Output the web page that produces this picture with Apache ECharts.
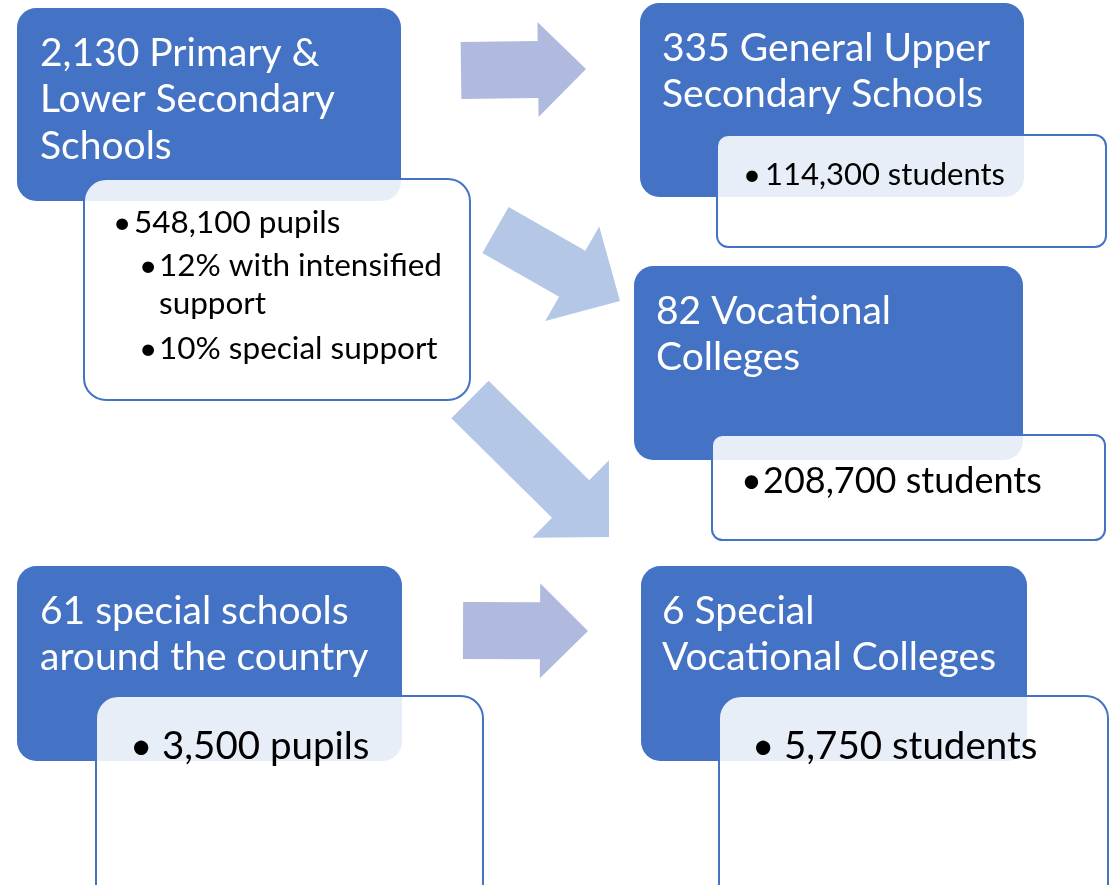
<!DOCTYPE html>
<html>
<head>
<meta charset="utf-8">
<script src="https://cdn.jsdelivr.net/npm/echarts@6/dist/echarts.min.js"></script>
<style>
  html, body { margin: 0; padding: 0; background: #fff; }
  #chart { width: 1116px; height: 885px; }
</style>
</head>
<body>
<div id="chart"></div>
<script>
// school types (blue boxes), one entry per box, lines as shown
const schoolTypes = [
  ['2,130 Primary &', 'Lower Secondary', 'Schools'],
  ['335 General Upper', 'Secondary Schools'],
  ['82 Vocational', 'Colleges'],
  ['61 special schools', 'around the country'],
  ['6 Special', 'Vocational Colleges'],
]

// bullet notes under each box: [level, lines]
const schoolNotes = [
  [[0, ['548,100 pupils']], [1, ['12% with intensified', 'support']], [1, ['10% special support']]],
  [[0, ['114,300 students']]],
  [[0, ['208,700 students']]],
  [[0, ['3,500 pupils']]],
  [[0, ['5,750 students']]],
]

// flows between boxes: [from, to]
const flows = [[0, 1], [0, 2], [0, 2], [3, 4]]

// ---- layout (pixels) ----
const BLUE = '#4472C4'
const FONT = 'Lato, "Noto Sans", sans-serif'

const headBox = [
  [17, 8, 384, 193],
  [640, 3, 384, 194],
  [634, 266, 389, 194],
  [17, 566, 385, 195],
  [641, 566, 386, 195],
]
const headText = { size: 39, lh: 46.5, dx: [23, 22, 22, 23, 21], dy: 59 }

const noteBox = [
  [84, 179, 386, 221],
  [717, 135, 389, 112],
  [712, 435, 393, 105],
  [96, 696, 387, 230],
  [719, 696, 389, 230],
]
// first baseline, bullet x, text x, font size
const noteText = [
  { y: 234, bx: 113, tx: 134, size: 31.5, sub: { bx: 139, tx: 159, gap: [43, 38, 45] } },
  { y: 186, bx: 743, tx: 765, size: 31 },
  { y: 494, bx: 741, tx: 763, size: 36 },
  { y: 760, bx: 130, tx: 162, size: 38.5 },
  { y: 760, bx: 752, tx: 784, size: 38.5 },
]

// arrows: tail centre, tip, body width, head width, head length, colour
const arrowGeo = [
  [[461, 70.5], [586, 69], 57, 95, 48, '#AFBADE'],
  [[495.5, 230], [620, 301], 53, 109, 55, '#B4C7E7'],
  [[470, 399.5], [609, 537], 53, 109, 54, '#B4C7E7'],
  [[463, 630.5], [588, 631], 57, 95, 48, '#AFBADE'],
]

function arrowPoints(g) {
  const [t, p, bw, hw, hl] = g
  const dx = p[0] - t[0], dy = p[1] - t[1]
  const len = Math.hypot(dx, dy)
  const ux = dx / len, uy = dy / len
  const nx = -uy, ny = ux
  const bx = p[0] - ux * hl, by = p[1] - uy * hl
  return [
    [t[0] + nx * bw / 2, t[1] + ny * bw / 2],
    [bx + nx * bw / 2, by + ny * bw / 2],
    [bx + nx * hw / 2, by + ny * hw / 2],
    [p[0], p[1]],
    [bx - nx * hw / 2, by - ny * hw / 2],
    [bx - nx * bw / 2, by - ny * bw / 2],
    [t[0] - nx * bw / 2, t[1] - ny * bw / 2],
  ]
}

function textEl(str, x, baseline, size, color, z) {
  return {
    type: 'text',
    z,
    style: {
      text: str,
      x,
      y: baseline - size * 0.36,
      verticalAlign: 'middle',
      font: `${size}px ${FONT}`,
      fill: color,
    },
  }
}

const graphics = []

flows.forEach((f, i) => {
  graphics.push({
    type: 'polygon',
    z: 1,
    shape: { points: arrowPoints(arrowGeo[i]) },
    style: { fill: arrowGeo[i][5] },
  })
})

schoolTypes.forEach((lines, i) => {
  const [x, y, w, h] = headBox[i]
  graphics.push({
    type: 'rect',
    z: 2,
    shape: { x, y, width: w, height: h, r: 0.1 * Math.min(w, h) },
    style: { fill: BLUE },
  })
  lines.forEach((ln, k) => {
    graphics.push(textEl(ln, x + headText.dx[i], y + headText.dy + k * headText.lh, headText.size, '#fff', 3))
  })
})

schoolNotes.forEach((notes, i) => {
  const [x, y, w, h] = noteBox[i]
  graphics.push({
    type: 'rect',
    z: 4,
    shape: { x, y, width: w, height: h, r: 0.1 * Math.min(w, h, 221) },
    style: { fill: 'rgba(255,255,255,0.88)', stroke: BLUE, lineWidth: 2 },
  })
  const nt = noteText[i]
  let base = nt.y
  let step = 0
  notes.forEach(([level, lines]) => {
    const bx = level ? nt.sub.bx : nt.bx
    const tx = level ? nt.sub.tx : nt.tx
    graphics.push(textEl('•', bx, base, nt.size, '#000', 5))
    lines.forEach((ln) => {
      graphics.push(textEl(ln, tx, base, nt.size, '#000', 5))
      if (nt.sub) base += nt.sub.gap[step++] || 0
    })
  })
})

const chart = echarts.init(document.getElementById('chart'), null, { renderer: 'canvas' })
chart.setOption({
  backgroundColor: '#fff',
  animation: false,
  graphic: graphics,
})
</script>
</body>
</html>
